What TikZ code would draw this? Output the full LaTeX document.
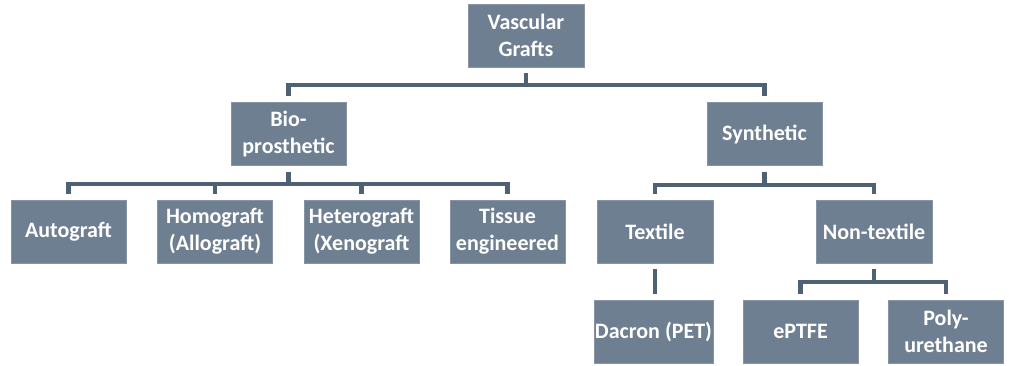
\documentclass[tikz,border=0pt]{standalone}
\usepackage{fontspec}
\setmainfont{Carlito}
\definecolor{boxfill}{HTML}{6F7F92}
\definecolor{boxedge}{HTML}{8694A5}
\definecolor{linecol}{HTML}{4F6175}
\begin{document}
\begin{tikzpicture}[x=1pt,y=1pt,
  gbox/.style={rectangle, fill=boxfill, draw=boxedge, line width=0.8pt,
    minimum width=115pt, minimum height=63pt, inner sep=1pt,
    text=white, align=center,
    font=\fontsize{22}{27}\selectfont\bfseries},
  conn/.style={draw=linecol, line width=4.5pt, shorten <=6pt, shorten >=6pt}]
\useasboundingbox[fill=white] (0,0) rectangle (1009,365);
% nodes
\node[gbox, minimum width=116pt] (vg) at (526,329.5) {Vascular\\Grafts};
\node[gbox] (bio) at (288.5,231) {Bio-\\prosthetic};
\node[gbox] (syn) at (764.5,231) {Synthetic};
\node[gbox] (auto) at (68.5,133.5) {Autograft};
\node[gbox] (homo) at (215,133.5) {Homograft\\(Allograft)};
\node[gbox] (hetero) at (361.5,133.5) {Heterograft\\(Xenograft};
\node[gbox] (tissue) at (507.5,133.5) {Tissue\\engineered};
\node[gbox, minimum width=116pt] (tex) at (655,133.5) {Textile};
\node[gbox, minimum width=116pt] (ntex) at (874,133.5) {Non-textile};
\node[gbox, minimum width=119pt] (dac) at (653.5,33.5) {Dacron (PET)};
\node[gbox] (eptfe) at (800.5,33.5) {ePTFE};
\node[gbox] (poly) at (946,33.5) {Poly-\\urethane};
% connectors
\foreach \c in {bio,syn}
  \draw[conn] (vg.south) -- (vg.south |- {0,280}) -| (\c.north);
\foreach \c in {auto,homo,hetero,tissue}
  \draw[conn] (bio.south) -- (bio.south |- {0,181}) -| (\c.north);
\foreach \c in {tex,ntex}
  \draw[conn] (syn.south) -- (syn.south |- {0,180}) -| (\c.north);
\foreach \c in {eptfe,poly}
  \draw[conn] (ntex.south) -- (ntex.south |- {0,83}) -| (\c.north);
\draw[conn] (tex.south) -- (tex.south |- dac.north);
\end{tikzpicture}
\end{document}
